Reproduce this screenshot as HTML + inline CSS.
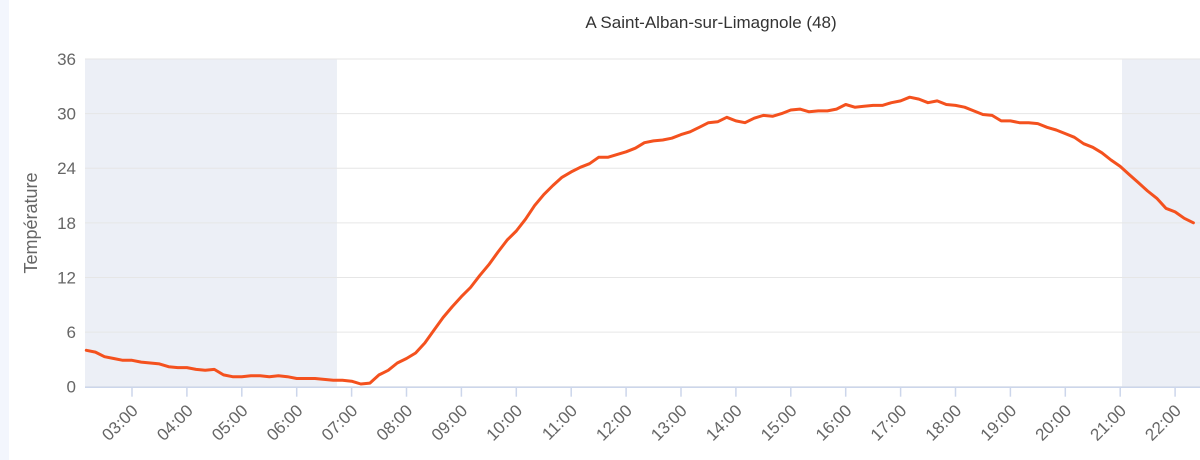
<!DOCTYPE html>
<html><head><meta charset="utf-8"><style>
html,body{margin:0;padding:0;background:#fff;}
svg{display:block;font-family:"Liberation Sans","DejaVu Sans",sans-serif;}
</style></head><body>
<svg id="chart" width="1200" height="460">
<rect x="0" y="0" width="9" height="460" fill="#f3f6fd"/>
<text x="711" y="28" text-anchor="middle" font-size="17" fill="#333">A Saint-Alban-sur-Limagnole (48)</text>
<text transform="translate(37,223) rotate(-90)" text-anchor="middle" font-size="18" fill="#666">Température</text>
<g id="bands"></g><g id="grid"></g><g id="xaxis"></g><g id="series"></g>
</svg>
<script>
const yTicks=[0,6,12,18,24,30,36];
const xTickLabels=["03:00","04:00","05:00","06:00","07:00","08:00","09:00","10:00","11:00","12:00","13:00","14:00","15:00","16:00","17:00","18:00","19:00","20:00","21:00","22:00","23:00"];
const startMinutes=130; // 02:10
const stepMinutes=10;
const temps=[4.0,3.8,3.3,3.1,2.9,2.9,2.7,2.6,2.5,2.2,2.1,2.1,1.9,1.8,1.9,1.3,1.1,1.1,1.2,1.2,1.1,1.2,1.1,0.9,0.9,0.9,0.8,0.7,0.7,0.6,0.3,0.4,1.3,1.8,2.6,3.1,3.7,4.8,6.2,7.6,8.8,9.9,10.9,12.2,13.4,14.8,16.1,17.1,18.4,19.9,21.1,22.1,23.0,23.6,24.1,24.5,25.2,25.2,25.5,25.8,26.2,26.8,27.0,27.1,27.3,27.7,28.0,28.5,29.0,29.1,29.6,29.2,29.0,29.5,29.8,29.7,30.0,30.4,30.5,30.2,30.3,30.3,30.5,31.0,30.7,30.8,30.9,30.9,31.2,31.4,31.8,31.6,31.2,31.4,31.0,30.9,30.7,30.3,29.9,29.8,29.2,29.2,29.0,29.0,28.9,28.5,28.2,27.8,27.4,26.7,26.3,25.7,24.9,24.2,23.3,22.4,21.5,20.7,19.6,19.2,18.5,18.0];
const nightBands=[[128,404],[1262,1440]]; // minutes
const L=85,R=1200,T=59,B=386.7;
const pxPerMin=54.9/60, x0Min=180, x0Px=132;
const X=m=>x0Px+(m-x0Min)*pxPerMin;
const Y=v=>B-(v-0)/36*(B-T);
const NS="http://www.w3.org/2000/svg";
function mk(tag,attrs,parent){const e=document.createElementNS(NS,tag);for(const k in attrs)e.setAttribute(k,attrs[k]);document.getElementById(parent).appendChild(e);return e;}
nightBands.forEach(b=>{const x1=Math.max(L,X(b[0])),x2=Math.min(R,X(b[1]));
const r=mk('rect',{x:x1,y:T,width:x2-x1,height:B-T,fill:'#eceff6'},'bands');

});
yTicks.forEach(v=>{const l=mk('line',{x1:L,x2:R,y1:Y(v),y2:Y(v),stroke:'#e6e6e6','stroke-width':1},'grid');


const t=mk('text',{x:76,y:Y(v)+6,'text-anchor':'end','font-size':17,fill:'#666'},'grid');t.textContent=v;

});
const ax=mk('line',{x1:L,x2:R,y1:B+0.5,y2:B+0.5,stroke:'#ccd6eb','stroke-width':1.5},'xaxis');


xTickLabels.forEach((lab,i)=>{const x=X(x0Min+i*60);
const tk=mk('line',{x1:x,x2:x,y1:B,y2:B+10,stroke:'#ccd6eb','stroke-width':1.5},'xaxis');


const t=mk('text',{transform:`translate(${x+7},${B+25}) rotate(-45)`,'text-anchor':'end','font-size':17,fill:'#666'},'xaxis');t.textContent=lab;

});
const pts=temps.map((v,i)=>X(startMinutes+i*stepMinutes).toFixed(1)+','+Y(v).toFixed(1)).join(' ');
const pl=mk('polyline',{points:pts,fill:'none',stroke:'#f4511e','stroke-width':3,'stroke-linejoin':'round','stroke-linecap':'round'},'series');


</script>
</body></html>
